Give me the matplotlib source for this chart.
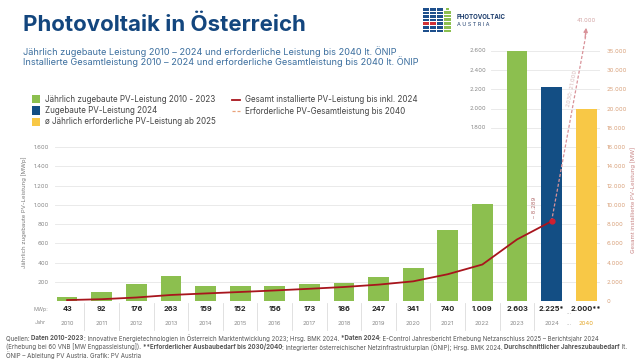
import matplotlib
matplotlib.use("Agg")
import matplotlib.pyplot as plt
import numpy as np
from matplotlib.patches import Rectangle
from matplotlib.lines import Line2D

plt.rcParams['font.family'] = ['Inter', 'DejaVu Sans']

# data
years = ['2010', '2011', '2012', '2013', '2014', '2015', '2016', '2017',
         '2018', '2019', '2020', '2021', '2022', '2023', '2024', '2040']
added = [43, 92, 176, 263, 159, 152, 156, 173, 186, 247, 341, 740, 1009, 2603, 2225, 2000]
added_labels = ['43', '92', '176', '263', '159', '152', '156', '173', '186', '247',
                '341', '740', '1.009', '2.603', '2.225*', '2.000**']
cumulative = [96, 187, 364, 626, 785, 937, 1096, 1269, 1455, 1702, 2043, 2783, 3792, 6395, 8289]
target_2030 = 21000
target_2040 = 41000

left_ticks = [200, 400, 600, 800, 1000, 1200, 1400, 1600]
left_ticks_upper = [1800, 2000, 2200, 2400, 2600]
right_ticks = [0, 2000, 4000, 6000, 8000, 10000, 12000, 14000, 16000, 18000, 20000,
               25000, 30000, 35000]

GREEN = '#8CBF4F'
BLUE = '#134E84'
YELLOW = '#F8C846'
RED = '#A8151D'
DASH = '#D9939A'
TITLE = '#13467E'
GREY = '#8a8a8a'
W, H = 640, 360


def fx(x):
    return x / W


def fy(y):
    return 1 - y / H


def fmt(v):
    return f"{v:,}".replace(',', '.')


fig = plt.figure(figsize=(6.4, 3.6), dpi=100)
fig.patch.set_facecolor('white')

ax = fig.add_axes([fx(55), fy(301), (600 - 55) / W, (301 - 22) / H])
xs = np.arange(len(years))
colors = [GREEN] * 14 + [BLUE, YELLOW]
for s in ax.spines.values():
    s.set_visible(False)

# grid
for v in left_ticks:
    ax.axhline(v, color='#e6e6e6', lw=0.6, zorder=0)
for v in left_ticks_upper:
    ax.axhline(v, xmin=0.80, xmax=1, color='#e6e6e6', lw=0.6, zorder=0)
    ax.text(0.791, v, fmt(v), transform=ax.get_yaxis_transform(), ha='right',
            va='center', fontsize=4.3, color=GREY)

ax.bar(xs, added, width=0.6, color=colors, zorder=2)
ax.set_xlim(-0.35, 15.4)
ax.set_ylim(0, 2900)
ax.set_xticks([])
ax.set_yticks(left_ticks)
ax.set_yticklabels([fmt(v) for v in left_ticks])
ax.tick_params(axis='y', length=0, pad=4.3, labelsize=4.3, labelcolor=GREY)


# right axis with the broken (piecewise) scale of the original
def fwd(v):
    v = np.asarray(v, dtype=float)
    return np.where(v <= 20000, v / 10, 2000 + (v - 20000) / 25)


def inv(u):
    u = np.asarray(u, dtype=float)
    return np.where(u <= 2000, u * 10, 20000 + (u - 2000) * 25)


ax2 = ax.twinx()
for s in ax2.spines.values():
    s.set_visible(False)
ax2.set_yscale('function', functions=(fwd, inv))
ax2.set_ylim(0, float(inv(2900)))
ax2.set_yticks(right_ticks)
ax2.set_yticklabels([fmt(v) for v in right_ticks])
ax2.yaxis.set_minor_locator(matplotlib.ticker.NullLocator())
ax2.tick_params(axis='y', length=0, pad=5, labelsize=4.3, labelcolor='#D9A27C')

ax2.plot(xs[:15], cumulative, color=RED, lw=1.3, zorder=3)
ax2.plot([xs[14]], [cumulative[-1]], 'o', color='#D02030', ms=3.5, zorder=4)
ax2.plot([xs[14], xs[15]], [cumulative[-1], target_2040 - 1500], color=DASH,
         lw=0.9, ls=(0, (2.5, 1.5)), zorder=3)
ax2.annotate('', xy=(xs[15], target_2040), xytext=(xs[15] - 0.03, target_2040 - 2500),
             arrowprops=dict(arrowstyle='-|>', color=DASH, lw=0.9,
                             mutation_scale=6, shrinkA=0, shrinkB=0))
ax2.text(xs[15], target_2040 + 1800, fmt(target_2040), ha='center', va='center',
         fontsize=4.3, color='#D4A7A7', clip_on=False)
ax2.text(14.6, 25300, f"2030: {fmt(target_2030)}", rotation=79, ha='center',
         va='center', fontsize=4.3, color='#D8BBBB')
ax2.text(13.52, 9700, f"– {fmt(cumulative[-1])}", rotation=90, ha='center',
         va='center', fontsize=4.3, color='#B57070')

# table below the bars
xt = ax.get_xaxis_transform()
for i, (x, lab, yr) in enumerate(zip(xs, added_labels, years)):
    ax.text(x, -0.029, lab, transform=xt, ha='center', va='center', fontsize=5.3,
            fontweight='bold', color='#222222', clip_on=False)
    ax.text(x, -0.079, yr, transform=xt, ha='center', va='center', fontsize=4.3,
            color='#E3A72A' if yr == '2040' else GREY, clip_on=False)
for x in xs[:14] + 0.5:
    ax.plot([x, x], [-0.008, -0.104], transform=xt, color='#dcdcdc', lw=0.6,
            clip_on=False)
ax.text(14.5, -0.04, '...', transform=xt, ha='center', va='center', fontsize=4.3,
        color=GREY, clip_on=False)
ax.text(14.5, -0.079, '...', transform=xt, ha='center', va='center', fontsize=4.3,
        color=GREY, clip_on=False)
fig.text(fx(41), fy(310), 'MWp:', ha='center', va='center', fontsize=3.8, color=GREY)
fig.text(fx(40), fy(323), 'Jahr', ha='center', va='center', fontsize=3.8, color=GREY)

# axis titles
fig.text(fx(24), fy(212), 'Jährlich zugebaute PV-Leistung [MWp]', rotation=90,
         ha='center', va='center', fontsize=4.3, color='#7a7a7a')
fig.text(fx(633), fy(200), 'Gesamt installierte PV-Leistung [MW]', rotation=90,
         ha='center', va='center', fontsize=4.3, color='#C98585')

# title block
fig.text(fx(23), fy(25), 'Photovoltaik in Österreich', ha='left', va='center',
         fontsize=16, fontweight='bold', color=TITLE)
fig.text(fx(23), fy(51.5), 'Jährlich zugebaute Leistung 2010 – 2024 und erforderliche '
         'Leistung bis 2040 lt. ÖNIP', ha='left', va='center', fontsize=6.6, color='#3B6E9E')
fig.text(fx(23), fy(61.5), 'Installierte Gesamtleistung 2010 – 2024 und erforderliche '
         'Gesamtleistung bis 2040 lt. ÖNIP', ha='left', va='center', fontsize=6.6,
         color='#3B6E9E')

# legend
leg_items = [(GREEN, 'Jährlich zugebaute PV-Leistung 2010 - 2023'),
             (BLUE, 'Zugebaute PV-Leistung 2024'),
             (YELLOW, 'ø Jährlich erforderliche PV-Leistung ab 2025')]
for k, (c, t) in enumerate(leg_items):
    yc = 99 + k * 11.5
    fig.add_artist(Rectangle((fx(32), fy(yc + 4)), 8 / W, 8 / H, facecolor=c, lw=0,
                             transform=fig.transFigure))
    fig.text(fx(45), fy(yc), t, ha='left', va='center', fontsize=5.8, color='#444444')
fig.add_artist(Line2D([fx(232), fx(240)], [fy(100), fy(100)], color=RED, lw=1.3,
                      transform=fig.transFigure))
fig.text(fx(245), fy(99.5), 'Gesamt installierte PV-Leistung bis inkl. 2024', ha='left',
         va='center', fontsize=5.8, color='#444444')
fig.add_artist(Line2D([fx(232), fx(240)], [fy(111), fy(111)], color='#E9A27A', lw=0.9,
                      ls=(0, (2.5, 1.5)), transform=fig.transFigure))
fig.text(fx(245), fy(111), 'Erforderliche PV-Gesamtleistung bis 2040', ha='left',
         va='center', fontsize=5.8, color='#444444')

# logo
for col in range(3):
    for row in range(7):
        c = '#1D4F8C'
        if row == 4 and col < 2:
            c = '#D03035'
        x0 = 423 + col * 6.8
        y0 = 8 + row * 3.6
        fig.add_artist(Rectangle((fx(x0), fy(y0 + 2.6)), 6 / W, 2.6 / H, facecolor=c,
                                 lw=0, transform=fig.transFigure))
fig.add_artist(Rectangle((fx(446), fy(10)), 3 / W, 2 / H, facecolor=GREEN, lw=0,
                         transform=fig.transFigure))
for row in range(6):
    y0 = 11 + row * 3.7
    fig.add_artist(Rectangle((fx(444), fy(y0 + 2.7)), 7 / W, 2.7 / H, facecolor=GREEN,
                             lw=0, transform=fig.transFigure))
fig.text(fx(457), fy(17), 'PHOTOVOLTAIC', ha='left', va='center', fontsize=4.4,
         fontweight='bold', color='#1F3F6E')
fig.text(fx(457), fy(25), 'A U S T R I A', ha='left', va='center', fontsize=3.9,
         color='#1F3F6E')

# footer with bold runs
footer = [
    [("Quellen: ", False), ("Daten 2010-2023", True),
     (": Innovative Energietechnologien in Österreich Marktentwicklung 2023; Hrsg. BMK 2024. ", False),
     ("*Daten 2024", True),
     (": E-Control Jahresbericht Erhebung Netzanschluss 2025 – Berichtsjahr 2024", False)],
    [("(Erhebung bei 60 VNB [MW Engpassleistung]). ", False),
     ("**Erforderlicher Ausbaubedarf bis 2030/2040", True),
     (": Integrierter österreichischer Netzinfrastrukturplan (ÖNIP); Hrsg. BMK 2024. ", False),
     ("Durchschnittlicher Jahreszubaubedarf", True), (" lt.", False)],
    [("ÖNIP – Ableitung PV Austria. Grafik: PV Austria", False)],
]
renderer = fig.canvas.get_renderer()


def text_width(s, bold, size):
    t = fig.text(0, 0, s, fontsize=size, fontweight='bold' if bold else 'normal')
    w = t.get_window_extent(renderer).width
    t.remove()
    return w


fsize = 4.4
for li, parts in enumerate(footer):
    x = 6.0
    y = 338.5 + li * 8.3
    for s, bold in parts:
        fig.text(fx(x), fy(y), s, ha='left', va='center', fontsize=fsize,
                 fontweight='bold' if bold else 'normal', color='#555555')
        x += text_width(s + 'I', bold, fsize) - text_width('I', bold, fsize)

fig.savefig('out.png', dpi=100)
